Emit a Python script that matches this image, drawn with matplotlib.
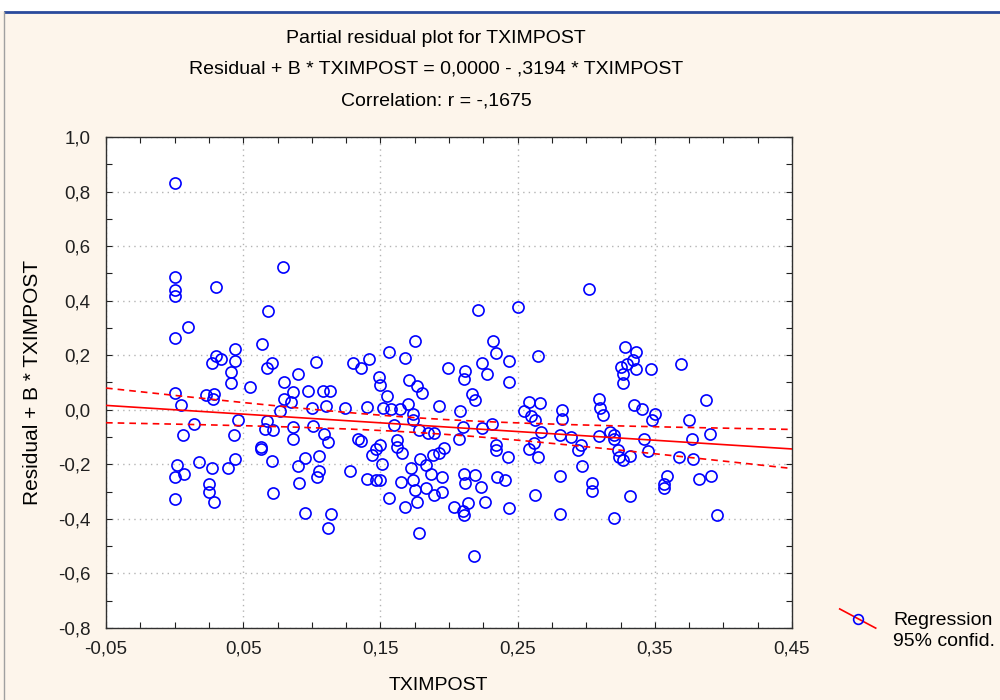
import numpy as np
import matplotlib
matplotlib.use("Agg")
import matplotlib.pyplot as plt
from matplotlib.ticker import MultipleLocator
from matplotlib.lines import Line2D
from matplotlib.patches import Rectangle
from matplotlib.legend_handler import HandlerBase

plt.rcParams['font.family'] = ['Liberation Sans', 'DejaVu Sans']

# TXIMPOST values (x) and partial residuals (y)
tximpost = [
    0.000, 0.079, 0.000, 0.000, 0.000, 0.030, 0.068, 0.010, 0.221, 0.250, 0.302,
    0.000, 0.064, 0.044, 0.030, 0.027, 0.034, 0.044, 0.041, 0.041, 0.067, 0.071, 0.055,
    0.103, 0.090, 0.080, 0.130, 0.000, 0.005, 0.023, 0.029, 0.028, 0.086, 0.097, 0.108,
    0.113, 0.080, 0.085, 0.110, 0.100, 0.124, 0.077, 0.046, 0.014, 0.006, 0.043, 0.067,
    0.066, 0.072, 0.086, 0.086, 0.101, 0.109, 0.112, 0.063, 0.063, 0.071, 0.095, 0.090,
    0.105, 0.105, 0.104, 0.091, 0.128, 0.072, 0.002, 0.000, 0.007, 0.018, 0.027, 0.039,
    0.044, 0.025, 0.025, 0.029, 0.000, 0.095, 0.114, 0.112,
    0.175, 0.232, 0.234, 0.156, 0.168, 0.142, 0.136, 0.199, 0.224, 0.244, 0.212, 0.211,
    0.228, 0.244, 0.265, 0.149, 0.150, 0.171, 0.177, 0.180, 0.155, 0.217, 0.219, 0.140,
    0.152, 0.158, 0.164, 0.170, 0.174, 0.193, 0.208, 0.174, 0.160, 0.178, 0.185, 0.189,
    0.210, 0.224, 0.231, 0.207, 0.255, 0.258, 0.266, 0.260, 0.263, 0.267, 0.262, 0.258,
    0.265, 0.134, 0.136, 0.150, 0.144, 0.147, 0.151, 0.162, 0.162, 0.166, 0.140, 0.147,
    0.150, 0.156, 0.165, 0.172, 0.174, 0.175, 0.168, 0.177, 0.179, 0.183, 0.187, 0.183,
    0.189, 0.195, 0.195, 0.188, 0.193, 0.196, 0.178, 0.218, 0.211, 0.212, 0.204, 0.211,
    0.210, 0.214, 0.219, 0.223, 0.226, 0.235, 0.241, 0.244, 0.263, 0.234, 0.234, 0.243,
    0.328, 0.336, 0.334, 0.330, 0.325, 0.336, 0.347, 0.327, 0.327, 0.369, 0.387, 0.309,
    0.310, 0.312, 0.282, 0.282, 0.335, 0.341, 0.350, 0.348, 0.375, 0.390, 0.377, 0.342,
    0.281, 0.289, 0.296, 0.294, 0.309, 0.317, 0.320, 0.320, 0.323, 0.324, 0.327, 0.332,
    0.345, 0.368, 0.378, 0.297, 0.281, 0.304, 0.304, 0.332, 0.359, 0.357, 0.357, 0.382,
    0.391, 0.281, 0.320, 0.395,
]
residual = [
    0.833, 0.525, 0.486, 0.440, 0.417, 0.451, 0.362, 0.305, 0.367, 0.377, 0.441,
    0.263, 0.242, 0.222, 0.196, 0.172, 0.185, 0.178, 0.139, 0.099, 0.154, 0.170, 0.084,
    0.174, 0.130, 0.100, 0.170, 0.060, 0.019, 0.055, 0.059, 0.038, 0.066, 0.070, 0.070,
    0.070, 0.039, 0.029, 0.015, 0.006, 0.005, -0.005, -0.039, -0.054, -0.094, -0.094, -0.043,
    -0.070, -0.075, -0.064, -0.109, -0.058, -0.088, -0.119, -0.138, -0.145, -0.189, -0.178, -0.208,
    -0.168, -0.225, -0.247, -0.268, -0.223, -0.307, -0.203, -0.247, -0.234, -0.193, -0.213, -0.213,
    -0.182, -0.272, -0.302, -0.338, -0.327, -0.377, -0.382, -0.432,
    0.252, 0.252, 0.208, 0.211, 0.188, 0.187, 0.154, 0.154, 0.170, 0.178, 0.143, 0.112,
    0.130, 0.100, 0.196, 0.121, 0.089, 0.109, 0.087, 0.060, 0.049, 0.057, 0.037, 0.010,
    0.005, 0.001, 0.001, 0.021, -0.015, 0.015, -0.003, -0.039, -0.055, -0.076, -0.084, -0.084,
    -0.064, -0.067, -0.054, -0.109, -0.003, 0.028, 0.026, -0.022, -0.039, -0.082, -0.122, -0.143,
    -0.174, -0.108, -0.113, -0.130, -0.165, -0.143, -0.200, -0.110, -0.135, -0.159, -0.253, -0.258,
    -0.258, -0.322, -0.264, -0.212, -0.257, -0.294, -0.357, -0.338, -0.182, -0.202, -0.234, -0.288,
    -0.311, -0.302, -0.247, -0.167, -0.159, -0.142, -0.450, -0.536, -0.237, -0.269, -0.357, -0.385,
    -0.373, -0.343, -0.241, -0.283, -0.339, -0.247, -0.259, -0.362, -0.311, -0.131, -0.149, -0.174,
    0.229, 0.211, 0.183, 0.167, 0.156, 0.148, 0.148, 0.132, 0.099, 0.169, 0.034, 0.039,
    0.008, -0.021, 0.000, -0.034, 0.019, 0.004, -0.014, -0.036, -0.036, -0.089, -0.109, -0.109,
    -0.094, -0.101, -0.131, -0.146, -0.098, -0.081, -0.094, -0.106, -0.147, -0.174, -0.183, -0.168,
    -0.153, -0.174, -0.180, -0.208, -0.242, -0.268, -0.299, -0.317, -0.242, -0.274, -0.286, -0.253,
    -0.242, -0.382, -0.396, -0.387,
]

# regression coefficients as printed in the title
intercept = 0.0
slope = -0.3194

x_ticks = [-0.05, 0.05, 0.15, 0.25, 0.35, 0.45]
x_labels = ['-0,05', '0,05', '0,15', '0,25', '0,35', '0,45']
y_ticks = [-0.8, -0.6, -0.4, -0.2, 0.0, 0.2, 0.4, 0.6, 0.8, 1.0]
y_labels = ['-0,8', '-0,6', '-0,4', '-0,2', '0,0', '0,2', '0,4', '0,6', '0,8', '1,0']

x = np.array(tximpost)
y = np.array(residual)
n = len(x)
res = y - (intercept + slope * x)
s = np.sqrt(np.sum(res ** 2) / (n - 2))
xbar = x.mean()
sxx = np.sum((x - xbar) ** 2)
t_crit = 1.97

xs = np.linspace(-0.05, 0.45, 200)
fit = intercept + slope * xs
half = t_crit * s * np.sqrt(1.0 / n + (xs - xbar) ** 2 / sxx)

bg = '#fdf5eb'
fig = plt.figure(figsize=(10, 7), dpi=100, facecolor=bg)

# window frame decoration
fig.patches.append(Rectangle((0, 0.984), 1, 0.016, transform=fig.transFigure,
                             facecolor='white', edgecolor='none', zorder=0))
fig.add_artist(Line2D([0.005, 1.0], [0.983, 0.983], transform=fig.transFigure,
                      color='#2a4a9c', lw=2))
fig.add_artist(Line2D([0.004, 0.004], [0.0, 0.983], transform=fig.transFigure,
                      color='#a0a0a0', lw=1))

ax = fig.add_axes([0.106, 0.1029, 0.686, 0.7014])
ax.set_facecolor('white')

ax.plot(x, y, 'o', ms=8, mfc='none', mec='#0000ff', mew=1.2, zorder=3)
ax.plot(xs, fit, color='#ff0000', lw=1.2, zorder=4)
ax.plot(xs, fit + half, color='#ff0000', lw=1.2, ls=(0, (4, 3)), zorder=4)
ax.plot(xs, fit - half, color='#ff0000', lw=1.2, ls=(0, (4, 3)), zorder=4)

ax.set_xlim(-0.05, 0.45)
ax.set_ylim(-0.8, 1.0)
ax.set_xticks(x_ticks)
ax.set_xticklabels(x_labels)
ax.set_yticks(y_ticks)
ax.set_yticklabels(y_labels)
ax.xaxis.set_minor_locator(MultipleLocator(0.025))
ax.yaxis.set_minor_locator(MultipleLocator(0.1))
ax.tick_params(which='both', direction='in', top=True, right=True,
               length=4, width=0.8, colors='#202020')
ax.tick_params(axis='x', which='major', labelsize=13.5, pad=9)
ax.tick_params(axis='y', which='major', labelsize=13.5, pad=11)
ax.grid(which='major', linestyle=(0, (1, 3)), color='#b4b4b4', lw=1)
for sp in ax.spines.values():
    sp.set_color('#303030')
    sp.set_linewidth(1.0)

fig.text(0.436, 0.9457, 'Partial residual plot for TXIMPOST',
         ha='center', va='center', fontsize=14)
fig.text(0.436, 0.9014, 'Residual + B * TXIMPOST = 0,0000 - ,3194 * TXIMPOST',
         ha='center', va='center', fontsize=14)
fig.text(0.436, 0.8557, 'Correlation: r = -,1675',
         ha='center', va='center', fontsize=14)
fig.text(0.438, 0.0214, 'TXIMPOST', ha='center', va='center', fontsize=14)
fig.text(0.033, 0.453, 'Residual + B * TXIMPOST', ha='center', va='center',
         rotation=90, fontsize=15)


class DiagHandler(HandlerBase):
    def create_artists(self, legend, orig_handle, xdescent, ydescent,
                       width, height, fontsize, trans):
        line = Line2D([0, width], [height + 2, -2], color='#ff0000', lw=1.2,
                      transform=trans)
        mk = Line2D([width / 2], [height / 2], marker='o', ms=7, mfc='none',
                    mec='#0000ff', mew=1.2, ls='none', transform=trans)
        return [line, mk]


h1 = Line2D([], [])
h2 = Line2D([], [], ls='none')
fig.legend([h1, h2], ['Regression', '95% confid.'],
           handler_map={h1: DiagHandler()},
           loc='upper left', bbox_to_anchor=(0.83, 0.14),
           frameon=False, fontsize=14, handlelength=1.85, handletextpad=0.9,
           labelspacing=0.15, borderpad=0)

fig.savefig('out.png', dpi=100, facecolor=bg)
